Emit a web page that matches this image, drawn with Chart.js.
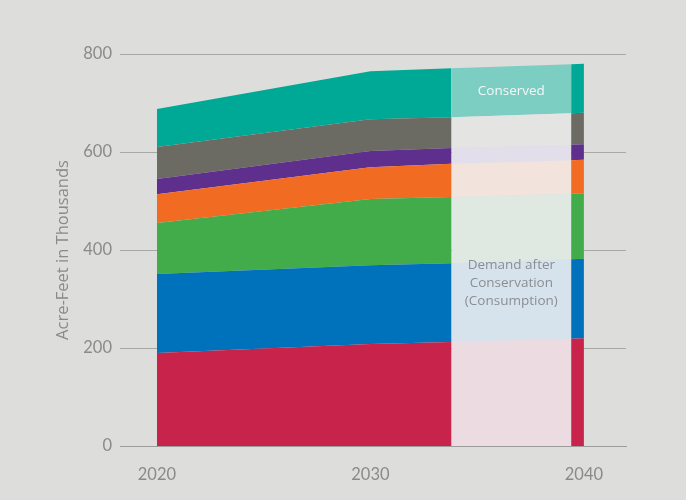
<!DOCTYPE html>
<html>
<head>
<meta charset="utf-8">
<script src="https://cdn.jsdelivr.net/npm/chart.js@4/dist/chart.umd.min.js"></script>
<style>
  html, body { margin: 0; padding: 0; background: #dddddb; }
  #c { display: block; }
</style>
</head>
<body>
<canvas id="c" width="686" height="500"></canvas>
<script>
// ---- data ----
const years = [2020, 2030, 2033.8, 2039.4, 2040];
const xTicks = [2020, 2030, 2040];
const yTicks = [0, 200, 400, 600, 800];
const conservationStart = 2033.8;
const conservationEnd = 2039.4;

// layer values (thousand acre-feet), bottom to top
const red    = [190, 208, 212, 219, 220];
const blue   = [161, 161, 161, 162, 162];
const green  = [104, 135, 135, 134, 134];
const orange = [ 59,  65,  68,  68,  68];
const purple = [ 31,  33,  32,  32,  32];
const gray   = [ 65,  65,  63,  64,  64];
const teal   = [ 78,  98, 100, 100, 100];

const conservedLabel = "Conserved";
const conservedLabelY = 724;
const demandLabel = ["Demand after", "Conservation", "(Consumption)"];
const demandLabelY = 333;
const yTitle = "Acre-Feet in Thousands";

// ---- styles ----
const layers = [
  { data: red,    color: "#c8234a", light: "#ecdce1" },
  { data: blue,   color: "#0072bb", light: "#d7e3ec" },
  { data: green,  color: "#43ac4a", light: "#dfe9e1" },
  { data: orange, color: "#f26b22", light: "#f2e3dc" },
  { data: purple, color: "#5f2f8d", light: "#e2dfea" },
  { data: gray,   color: "#6b6b63", light: "#e4e4e2" },
  { data: teal,   color: "#00a896", light: "#7ccdc2" }
];

const datasets = layers.map((l, i) => ({
  data: years.map((yr, j) => ({ x: yr, y: l.data[j] })),
  backgroundColor: l.color,
  borderWidth: 0,
  pointRadius: 0,
  pointHoverRadius: 0,
  tension: 0,
  fill: i === 0 ? "origin" : "-1",
  segment: {
    backgroundColor: ctx => ctx.p0.parsed.x === conservationStart ? l.light : undefined
  }
}));

const FONT = "Lato, 'Open Sans', sans-serif";
const FONT2 = "'Open Sans', Lato, sans-serif";

const labelPlugin = {
  id: "labels",
  afterDatasetsDraw(chart) {
    const { ctx, scales: { x, y } } = chart;
    const cx = x.getPixelForValue((conservationStart + conservationEnd) / 2);
    ctx.save();
    ctx.textAlign = "center";
    ctx.textBaseline = "middle";
    ctx.font = "13.5px " + FONT2;
    ctx.fillStyle = "#f2f9f8";
    ctx.fillText(conservedLabel, cx, y.getPixelForValue(conservedLabelY));
    ctx.fillStyle = "#8a8e93";
    const cy = y.getPixelForValue(demandLabelY);
    demandLabel.forEach((t, i) => {
      ctx.fillText(t, cx, cy + (i - 1) * 18);
    });
    ctx.restore();
  }
};

new Chart(document.getElementById("c"), {
  type: "line",
  data: { datasets },
  options: {
    responsive: false,
    animation: false,
    events: [],
    layout: { padding: { left: 0, right: 60, top: 54, bottom: 0 } },
    plugins: { legend: { display: false }, tooltip: { enabled: false } },
    scales: {
      x: {
        type: "linear",
        min: 2018.27,
        max: 2041.97,
        z: 1,
        afterBuildTicks: s => { s.ticks = xTicks.map(v => ({ value: v })); },
        afterFit: s => { s.height = 54; },
        grid: { display: false, drawTicks: false },
        border: { display: true, color: "#9c9c9c", width: 1 },
        ticks: {
          padding: 19,
          color: "#8a8a8a",
          font: { family: FONT, size: 16.5 },
          callback: v => String(v),
          maxRotation: 0
        }
      },
      y: {
        stacked: true,
        min: 0,
        max: 800,
        afterBuildTicks: s => { s.ticks = yTicks.map(v => ({ value: v })); },
        afterFit: s => { s.width = 120; },
        grid: { color: "#a8a8a6", lineWidth: 1, drawTicks: false },
        border: { display: false },
        ticks: {
          padding: 8,
          color: "#8a8a8a",
          font: { family: FONT, size: 16.5 }
        },
        title: {
          display: true,
          text: yTitle,
          color: "#8a8a8a",
          font: { family: FONT2, size: 16.5 },
          padding: { top: 53, bottom: 0 }
        }
      }
    }
  },
  plugins: [labelPlugin]
});
</script>
</body>
</html>
